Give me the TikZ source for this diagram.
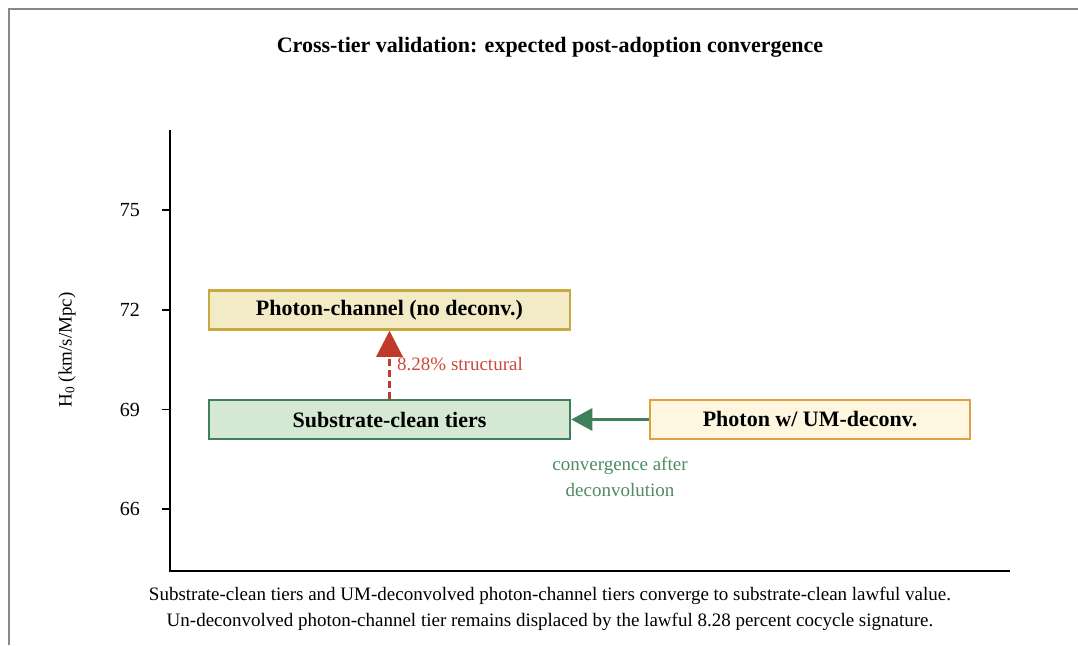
\documentclass[tikz,border=0pt]{standalone}
\usepackage{fontspec}
\setmainfont{Liberation Serif}
\usepackage{xcolor}
\usetikzlibrary{
    arrows.meta,
    positioning
}

\definecolor{framegray}{HTML}{888888}
\definecolor{rawfill}{HTML}{F3EBC5}
\definecolor{rawedge}{HTML}{C8A840}
\definecolor{cleanfill}{HTML}{D5E8D4}
\definecolor{cleanedge}{HTML}{3E7F5C}
\definecolor{umfill}{HTML}{FFF6DF}
\definecolor{umedge}{HTML}{E0A040}
\definecolor{gapred}{HTML}{C0392B}
\definecolor{gaptext}{HTML}{C94A3A}
\definecolor{convtext}{HTML}{4E8A66}

\begin{document}
\begin{tikzpicture}[x=1pt, y=-1pt]
                  \useasboundingbox (0,0) rectangle (1078,645);

                  % Outer frame (runs off the page to the right and bottom)
                  \draw[framegray, line width=2pt] (9,645) -- (9,9) -- (1078,9);

                  % Title
                  \node[font=\fontsize{22}{26}\selectfont\bfseries] (title) at (550,47) {Cross-tier validation: expected post-adoption convergence};

                  % Axes
                  \draw[line width=2pt] (170,130) -- (170,571) -- (1010,571);

                  % Ticks and tick labels on the H0 axis
                  \foreach \val/\ypos in {75/210, 72/310, 69/409.5, 66/509} {
                        \draw[line width=1.5pt] (162,\ypos) -- (170,\ypos);
                        \node[left, inner sep=0pt, font=\fontsize{20}{22}\selectfont] at (140,\ypos) {\val};
                  }

                  % Axis label
                  \node[rotate=90, font=\fontsize{19}{22}\selectfont] (ylabel) at (67,350) {H\textsubscript{0} (km/s/Mpc)};

                  % Define box and arrow styles:
                  \tikzset{
                        tierbox/.style={draw, line width=2.5pt, minimum height=39pt, inner sep=0pt, font=\fontsize{22}{26}\selectfont\bfseries},
                        structural/.style={-{Triangle[width=26pt, length=26pt]}, line width=3pt, gapred, dash pattern=on 7pt off 4pt},
                        converge/.style={-{Triangle[width=22pt, length=21pt]}, line width=3pt, cleanedge}
                  };

                  % Tier boxes
                  \node[tierbox, fill=rawfill, draw=rawedge, minimum width=361pt] (photon_raw) at (389.5,310) {Photon-channel (no deconv.)};
                  \node[tierbox, fill=cleanfill, draw=cleanedge, minimum width=361pt] (substrate) at (389.5,419.5) {Substrate-clean tiers};
                  \node[tierbox, fill=umfill, draw=umedge, minimum width=320pt] (photon_um) at (810,419.5) {Photon w/ UM-deconv.};

                  % Displacement and convergence arrows
                  \draw[structural] (substrate.north) -- (photon_raw.south);
                  \draw[converge] (photon_um.west) -- (substrate.east);

                  % Arrow labels
                  \node[right, inner sep=0pt, text=gaptext, font=\fontsize{19}{22}\selectfont] (gap_label) at (397,364) {8.28\% structural};
                  \node[align=center, text=convtext, font=\fontsize{19}{26}\selectfont] (conv_label) at (620,477) {convergence after\\deconvolution};

                  % Caption
                  \node[align=center, font=\fontsize{19}{26}\selectfont] (caption) at (550,609) {Substrate-clean tiers and UM-deconvolved photon-channel tiers converge to substrate-clean lawful value.\\Un-deconvolved photon-channel tier remains displaced by the lawful 8.28 percent cocycle signature.};
            \end{tikzpicture}
\end{document}
